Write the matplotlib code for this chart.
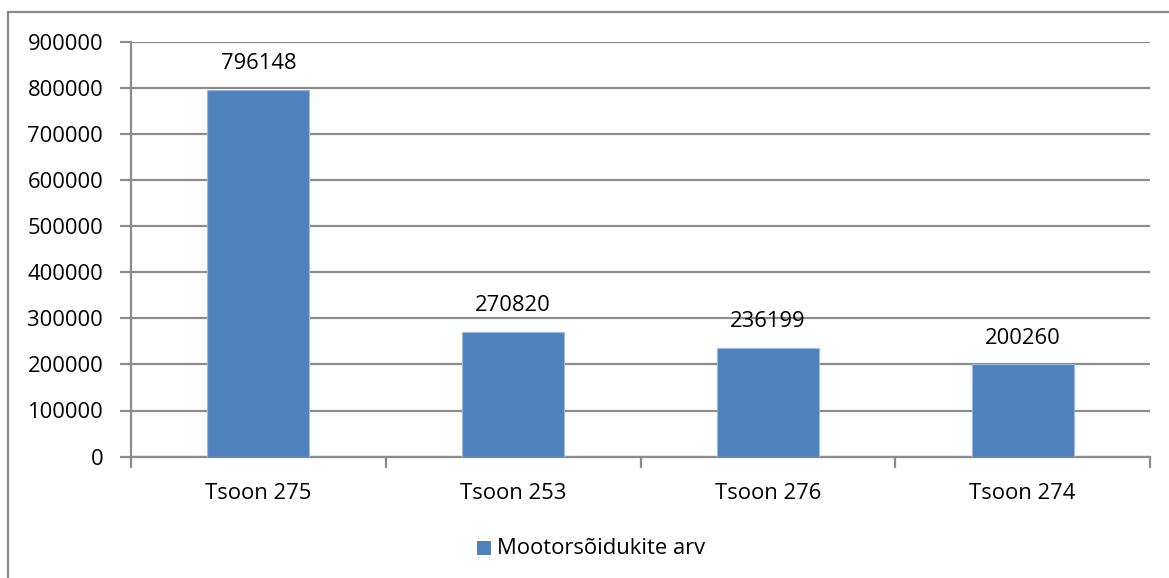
import matplotlib
matplotlib.use("Agg")
import matplotlib.pyplot as plt
from matplotlib.patches import Rectangle
import numpy as np

categories = ["Tsoon 275", "Tsoon 253", "Tsoon 276", "Tsoon 274"]
values = [796148, 270820, 236199, 200260]
series_name = "Mootorsõidukite arv"
yticks = [0, 100000, 200000, 300000, 400000, 500000, 600000, 700000, 800000, 900000]

plt.rcParams['font.family'] = ['Open Sans', 'DejaVu Sans']
FS = 15.8
BAR = "#4F81BD"
GRID = "#8C8C8C"

W, H = 1169, 578
fig = plt.figure(figsize=(W / 100, H / 100), dpi=100)
fig.patch.set_facecolor("white")

# chart frame
fig.add_artist(Rectangle((8 / W, -0.05), 1.2, 1 - 12 / H + 0.05,
                         transform=fig.transFigure, fill=False,
                         edgecolor="#8A8A8A", linewidth=1.6))

left, right = 131 / W, 1150 / W
bottom, top = 1 - 456.6 / H, 1 - 41.7 / H
ax = fig.add_axes([left, bottom, right - left, top - bottom])

x = np.arange(len(categories))
ax.bar(x, values, width=0.40, color=BAR, edgecolor="#9DBBE0", linewidth=0.8, zorder=3)

ax.set_xlim(-0.5, len(categories) - 0.5)
ax.set_ylim(0, 900000)
ax.set_yticks(yticks)
ax.set_yticklabels([str(v) for v in yticks], fontsize=FS)
ax.yaxis.grid(True, color=GRID, linewidth=1.6, zorder=0)
ax.set_axisbelow(True)

ax.set_xticks(x)
ax.set_xticklabels(categories, fontsize=FS)
ax.xaxis.set_minor_locator(matplotlib.ticker.FixedLocator(np.arange(-0.5, len(categories), 1.0)))
ax.tick_params(axis="x", which="major", length=0, pad=19)
ax.tick_params(axis="x", which="minor", length=8, width=1.6, color=GRID, direction="out")
ax.tick_params(axis="y", length=8, width=1.6, color=GRID, pad=12)

for s in ["top", "right"]:
    ax.spines[s].set_visible(False)
for s in ["left", "bottom"]:
    ax.spines[s].set_color(GRID)
    ax.spines[s].set_linewidth(1.6)

for xi, v in zip(x, values):
    ax.annotate(str(v), (xi, v), xytext=(0, 26), textcoords="offset pixels",
                ha="center", va="center", fontsize=FS)

# legend
fig.add_artist(Rectangle((477 / W, 1 - 555 / H), 14 / W, 14 / H,
                         transform=fig.transFigure, facecolor=BAR, edgecolor="none"))
fig.text(497 / W, 1 - 548 / H, series_name, fontsize=FS, ha="left", va="center")

fig.savefig("out.png", dpi=100)
